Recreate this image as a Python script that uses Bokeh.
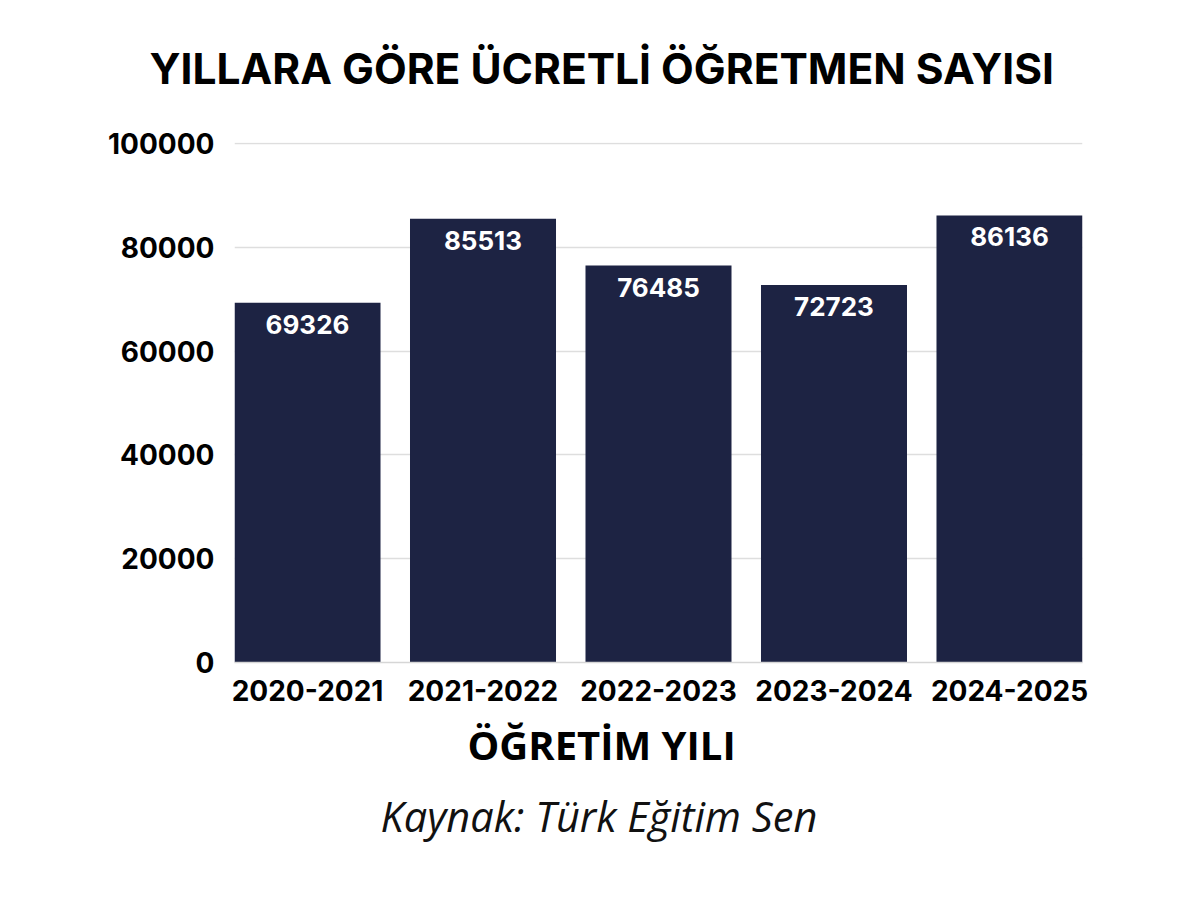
from bokeh.plotting import figure
from bokeh.models import Range1d, FixedTicker, Title, ColumnDataSource, LabelSet, NumeralTickFormatter
from bokeh.core.properties import value
from bokeh.embed import file_html
from bokeh.resources import INLINE

years = ["2020-2021", "2021-2022", "2022-2023", "2023-2024", "2024-2025"]
counts = [69326, 85513, 76485, 72723, 86136]
y_ticks = [0, 20000, 40000, 60000, 80000, 100000]
title_text = "YILLARA GÖRE ÜCRETLİ ÖĞRETMEN SAYISI"
xlabel_text = "ÖĞRETİM YILI"
source_text = "Kaynak: Türk Eğitim Sen"

W, H = 1184, 884
BAR = "#1d2343"
NUMFONT = "Inter"
FONT = "Open Sans"

idx = list(range(len(years)))
src = ColumnDataSource(dict(x=idx, top=counts, label=[str(c) for c in counts]))

p = figure(width=W, height=H, output_backend="svg", toolbar_location=None,
           x_range=Range1d(-0.416, len(years) - 1 + 0.416),
           y_range=Range1d(0, 100200),
           min_border_left=234, min_border_right=W - 1082,
           min_border_top=142, min_border_bottom=H - 662)
p.outline_line_color = None
p.background_fill_color = "white"
p.border_fill_color = "white"

p.vbar(x="x", top="top", width=0.832, source=src, fill_color=BAR, line_color=None)

labels = LabelSet(x="x", y="top", text="label", source=src, y_offset=-12,
                  text_align="center", text_baseline="top",
                  text_color="white", text_font=value(NUMFONT), text_font_style="bold",
                  text_font_size="26px")
p.add_layout(labels)

p.xgrid.grid_line_color = None
p.ygrid.grid_line_color = "#dedede"
p.ygrid.grid_line_width = 1.5
p.ygrid.ticker = FixedTicker(ticks=y_ticks)

p.yaxis.ticker = FixedTicker(ticks=y_ticks)
p.yaxis.formatter = NumeralTickFormatter(format="0")
p.yaxis.axis_line_color = None
p.yaxis.major_tick_line_color = None
p.yaxis.minor_tick_line_color = None
p.yaxis.major_label_standoff = 14
p.yaxis.major_label_text_font = NUMFONT
p.yaxis.major_label_text_font_style = "bold"
p.yaxis.major_label_text_font_size = "28px"
p.yaxis.major_label_text_color = "black"

p.xaxis.ticker = FixedTicker(ticks=idx)
p.xaxis.major_label_overrides = {i: y for i, y in zip(idx, years)}
p.xaxis.axis_line_color = "#d6d6d6"
p.xaxis.axis_line_width = 1.5
p.xaxis.major_tick_line_color = None
p.xaxis.minor_tick_line_color = None
p.xaxis.major_label_standoff = 11
p.xaxis.major_label_text_font = NUMFONT
p.xaxis.major_label_text_font_style = "bold"
p.xaxis.major_label_text_font_size = "28px"
p.xaxis.major_label_text_color = "black"

FRAME_LEFT = 235
# spacer between title and plot frame (closest to the frame)
p.add_layout(Title(text=" ", standoff=46, text_font_size="1px"), "above")
p.add_layout(Title(text=title_text, align="left", offset=150 - FRAME_LEFT,
                   vertical_align="bottom", standoff=0,
                   text_font=NUMFONT, text_font_style="bold",
                   text_font_size="42.5px", text_color="black"), "above")
p.add_layout(Title(text=xlabel_text, align="left", offset=468 - FRAME_LEFT,
                   standoff=22,
                   text_font=FONT, text_font_style="bold",
                   text_font_size="40px", text_color="black"), "below")
p.add_layout(Title(text=source_text, align="left", offset=381 - FRAME_LEFT,
                   standoff=6,
                   text_font=FONT, text_font_style="italic",
                   text_font_size="41.5px", text_color="#111111"), "below")

open("out.html", "w").write(file_html(p, INLINE))
